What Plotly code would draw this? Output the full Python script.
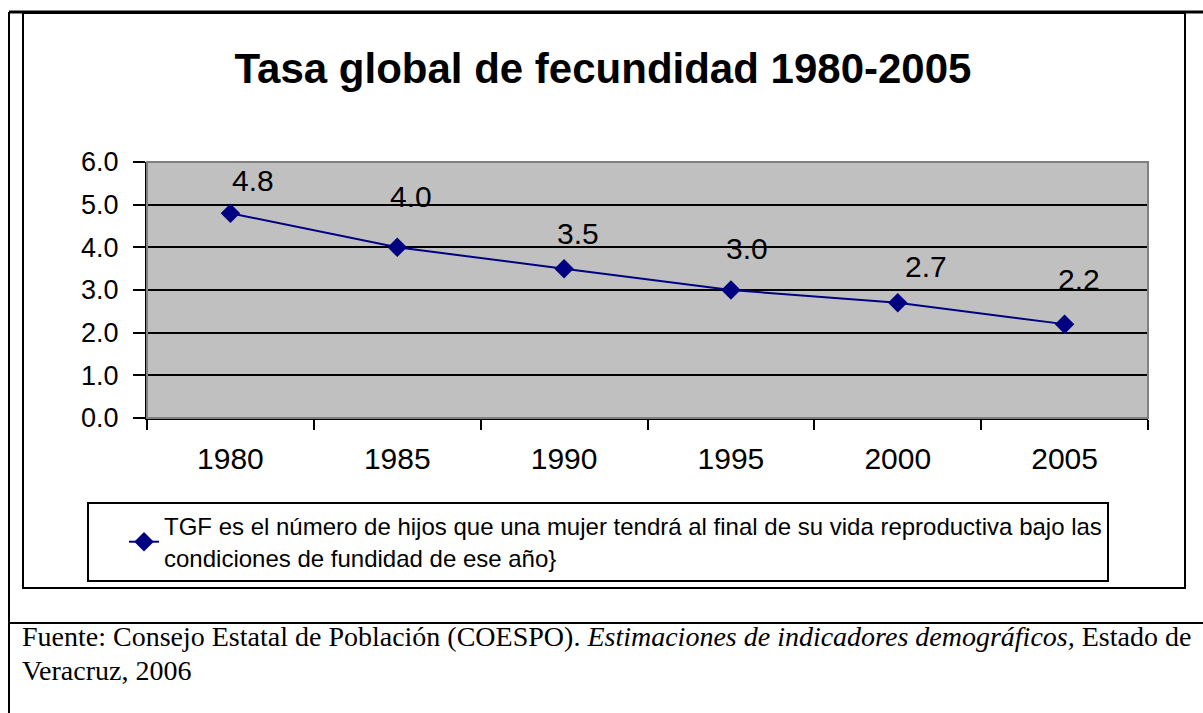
import plotly.graph_objects as go

# ---- data ----
years = ["1980", "1985", "1990", "1995", "2000", "2005"]
tgf = [4.8, 4.0, 3.5, 3.0, 2.7, 2.2]
y_ticks = [0, 1, 2, 3, 4, 5, 6]
y_tick_labels = ["0.0", "1.0", "2.0", "3.0", "4.0", "5.0", "6.0"]
title_text = "Tasa global de fecundidad 1980-2005"
series_name = ("TGF es el número de hijos que una mujer tendrá al final de su vida reproductiva bajo las<br>"
               "condiciones de fundidad de ese año}")
source_line1 = ("Fuente: Consejo Estatal de Población (COESPO). "
                "<i>Estimaciones de indicadores demográficos,</i> Estado de")
source_line2 = "Veracruz, 2006"

# label offsets (style, in pixels)
label_dx = [23, 14, 14, 16, 28, 14]
label_dy = [33, 51, 35, 42, 36, 45]

W, H = 1203, 713
L, R, T, B = 147, 1148, 162, 418


def px(x):
    return (x - L) / (R - L)


def py(y):
    return (B - y) / (B - T)


SANS = "Liberation Sans, Arial, sans-serif"
SERIF = "Liberation Serif, Times New Roman, serif"

fig = go.Figure()
fig.add_trace(go.Scatter(
    x=years, y=tgf, mode="lines+markers", name=series_name,
    line=dict(color="#000080", width=2),
    marker=dict(symbol="diamond", size=15, color="#000080"),
))

annotations = []
for i, v in enumerate(tgf):
    annotations.append(dict(
        x=i, y=v, xref="x", yref="y", text=f"{v:.1f}", showarrow=False,
        xshift=label_dx[i], yshift=label_dy[i],
        font=dict(family=SANS, size=30, color="black"),
    ))

annotations.append(dict(
    x=px(20), y=py(636), xref="paper", yref="paper", xanchor="left", yanchor="middle",
    text=source_line1, showarrow=False, font=dict(family=SERIF, size=28, color="black"),
))
annotations.append(dict(
    x=px(20), y=py(670), xref="paper", yref="paper", xanchor="left", yanchor="middle",
    text=source_line2, showarrow=False, font=dict(family=SERIF, size=28, color="black"),
))

shapes = [
    # plot area border (gray), over top gridline
    dict(type="rect", xref="paper", yref="paper", x0=0, x1=1, y0=0, y1=1,
         line=dict(color="#808080", width=2), layer="above"),
    # chart box
    dict(type="rect", xref="paper", yref="paper", x0=px(23), x1=px(1185), y0=py(588), y1=py(13),
         line=dict(color="black", width=2), layer="below"),
    # table lines
    dict(type="line", xref="paper", yref="paper", x0=px(9), x1=px(1210), y0=py(12), y1=py(12),
         line=dict(color="black", width=3)),
    dict(type="line", xref="paper", yref="paper", x0=px(9), x1=px(9), y0=py(12), y1=py(720),
         line=dict(color="black", width=2)),
    dict(type="line", xref="paper", yref="paper", x0=px(9), x1=px(1210), y0=py(623), y1=py(623),
         line=dict(color="black", width=2)),
]

fig.update_layout(
    width=W, height=H,
    margin=dict(l=L, r=W - R, t=T, b=H - B, autoexpand=False),
    paper_bgcolor="white", plot_bgcolor="#c0c0c0",
    title=dict(text=f"<b>{title_text}</b>", x=(232 + 974) / 2 / W, xanchor="center",
               y=1 - 68 / H, yanchor="middle", font=dict(family=SANS, size=42, color="black")),
    showlegend=True,
    legend=dict(x=px(87), y=py(502), xanchor="left", yanchor="top",
                bordercolor="black", borderwidth=2, bgcolor="white",
                font=dict(family=SANS, size=24, color="black"),
                indentation=35, itemwidth=30, tracegroupgap=0),
    xaxis=dict(type="category", range=[-0.5, 5.5], tickson="boundaries",
               ticks="outside", ticklen=10, tickwidth=2, tickcolor="black",
               showgrid=False, showline=True, linecolor="black", linewidth=2,
               ticklabelstandoff=13, tickfont=dict(family=SANS, size=30, color="black"),
               fixedrange=True),
    yaxis=dict(range=[0, 6], tickvals=y_ticks, ticktext=y_tick_labels,
               ticks="outside", ticklen=12, tickwidth=2, tickcolor="black",
               showgrid=True, gridcolor="black", gridwidth=2, zeroline=False,
               showline=True, linecolor="black", linewidth=2,
               ticklabelstandoff=9, tickfont=dict(family=SANS, size=27, color="black"),
               fixedrange=True),
    annotations=annotations, shapes=shapes,
)

fig.write_html("out.html", config={"displayModeBar": False},
               post_script="document.body.style.margin='0';")
